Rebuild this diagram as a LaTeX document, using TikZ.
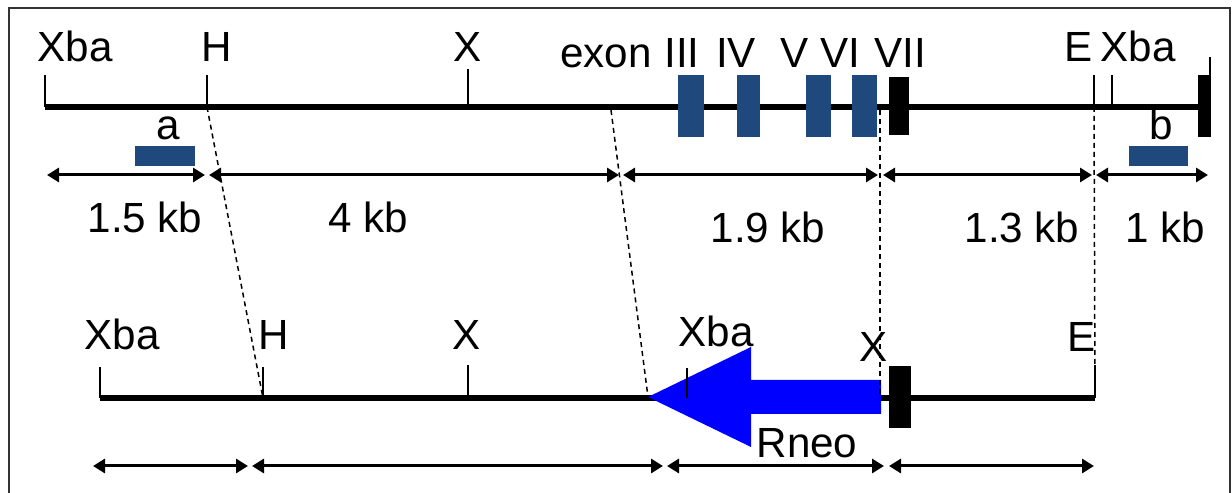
\documentclass[tikz,border=0pt]{standalone}
\usepackage{fontspec}
\setmainfont{Liberation Sans}
\usepackage{tikz}
\usepackage{xcolor}
\usetikzlibrary{positioning,arrows.meta}
\definecolor{exonblue}{RGB}{31,73,125}
\definecolor{neoblue}{RGB}{0,0,255}
\begin{document}
\begin{tikzpicture}
[
x=0.2mm, y=-0.2mm,
text-a/.style={font=\fontsize{24}{28}\selectfont, inner sep=0pt, anchor=base},
line-a/.style={line width=1.2mm},
tick-a/.style={line width=0.45mm},
tick-b/.style={line width=0.25mm},
span-a/.style={line width=0.6mm, {Triangle[length=2.4mm,width=2.8mm]}-{Triangle[length=2.4mm,width=2.8mm]}},
guide-a/.style={line width=0.3mm, dash pattern=on 1mm off 0.8mm},
exon-a/.style={fill=exonblue},
exon-b/.style={fill=black},
frame-a/.style={line width=0.4mm, draw=black!80}
]
\useasboundingbox (0,0) rectangle (1232,493);
\draw [frame-a] (9,493) -- (9,8) -- (1230,8) -- (1230,493);

\coordinate (wt-l)       at (45,107);
\coordinate (wt-r)       at (1205,107);
\coordinate (wt-xba-1)   at (45,75);
\coordinate (wt-h)       at (207,107);
\coordinate (wt-h-up)    at (207,75);
\coordinate (wt-x)       at (468,107);
\coordinate (wt-x-up)    at (468,69);
\coordinate (wt-e)       at (1094,107);
\coordinate (wt-e-up)    at (1094,75);
\coordinate (wt-xba-2)   at (1112,107);
\coordinate (wt-xba-2-up) at (1112,75);
\coordinate (wt-end)     at (1210,75);
\coordinate (wt-end-up)  at (1210,57);
\coordinate (wt-cut)     at (611,110);
\coordinate (wt-vi)      at (880,110);

\draw [line-a] (wt-l) -- (wt-r);
\draw [tick-a] (wt-l) -- (wt-xba-1);
\draw [tick-a] (wt-h) -- (wt-h-up);
\draw [tick-a] (wt-x) -- (wt-x-up);
\draw [tick-a] (wt-e) -- (wt-e-up);
\draw [tick-a] (wt-xba-2) -- (wt-xba-2-up);
\draw [tick-a] (wt-end) -- (wt-end-up);
\fill [exon-b] (1198,75) rectangle (1211,137);
\fill [exon-a] (678,75) rectangle (704,137);
\fill [exon-a] (737,75) rectangle (760,137);
\fill [exon-a] (806,75) rectangle (831,137);
\fill [exon-a] (852,75) rectangle (877,137);
\fill [exon-b] (889,77) rectangle (909,135);
\fill [exon-a] (135,146) rectangle (195,166);
\fill [exon-a] (1129,146) rectangle (1188,166);

\node (lb-xba-1)  [text-a] at (75,62)    {Xba};
\node (lb-h-1)    [text-a] at (217,62)   {H};
\node (lb-x-1)    [text-a] at (468,62)   {X};
\node (lb-exon)   [text-a] at (606,68)   {exon};
\node (lb-iii)    [text-a] at (682,68)   {III};
\node (lb-iv)     [text-a] at (736,68)   {IV};
\node (lb-v)      [text-a] at (795,68)   {V};
\node (lb-vi)     [text-a] at (840,68)   {VI};
\node (lb-vii)    [text-a] at (900,68)   {VII};
\node (lb-e-1)    [text-a] at (1079,62)  {E};
\node (lb-xba-2)  [text-a] at (1138,62)  {Xba};
\node (lb-a)      [text-a] at (168,140)  {a};
\node (lb-b)      [text-a] at (1161,140) {b};

\coordinate (sp-1-a) at (47,175);
\coordinate (sp-1-b) at (205,175);
\coordinate (sp-1-c) at (209,175);
\coordinate (sp-1-d) at (619,175);
\coordinate (sp-1-e) at (623,175);
\coordinate (sp-1-f) at (878,175);
\coordinate (sp-1-g) at (883,175);
\coordinate (sp-1-h) at (1092,175);
\coordinate (sp-1-i) at (1096,175);
\coordinate (sp-1-j) at (1208,175);
\draw [span-a] (sp-1-a) -- (sp-1-b);
\draw [span-a] (sp-1-c) -- (sp-1-d);
\draw [span-a] (sp-1-e) -- (sp-1-f);
\draw [span-a] (sp-1-g) -- (sp-1-h);
\draw [span-a] (sp-1-i) -- (sp-1-j);

\node (kb-1) [text-a] at (145,233)  {1.5 kb};
\node (kb-2) [text-a] at (368,233)  {4 kb};
\node (kb-3) [text-a] at (768,243)  {1.9 kb};
\node (kb-4) [text-a] at (1022,243) {1.3 kb};
\node (kb-5) [text-a] at (1165,243) {1 kb};

\coordinate (ko-l)       at (100,398);
\coordinate (ko-r)       at (1095,398);
\coordinate (ko-xba-1)   at (100,367);
\coordinate (ko-h)       at (263,398);
\coordinate (ko-h-up)    at (263,367);
\coordinate (ko-x)       at (468,398);
\coordinate (ko-x-up)    at (468,365);
\coordinate (ko-xba-2)   at (687,398);
\coordinate (ko-xba-2-up) at (687,368);
\coordinate (ko-tip)     at (648,397);
\coordinate (ko-vi)      at (880,395);
\coordinate (ko-e-up)    at (1095,365);

\draw [line-a] (ko-l) -- (ko-r);
\draw [tick-a] (ko-l) -- (ko-xba-1);
\draw [tick-a] (ko-h) -- (ko-h-up);
\draw [tick-a] (ko-x) -- (ko-x-up);
\draw [tick-a] (ko-r) -- (ko-e-up);
\fill [neoblue] (ko-tip) -- (751,347) -- (751,380) -- (881,380)
  -- (881,414) -- (751,414) -- (751,447) -- cycle;
\draw [tick-b] (ko-xba-2) -- (ko-xba-2-up);
\fill [exon-b] (889,366) rectangle (911,428);

\draw [guide-a] (wt-h) -- (ko-h);
\draw [guide-a] (wt-cut) -- (ko-tip);
\draw [guide-a] (wt-vi) -- (ko-vi);
\draw [guide-a] (wt-e) -- (ko-r);

\node (lb-xba-3) [text-a] at (122,350) {Xba};
\node (lb-h-2)   [text-a] at (274,350) {H};
\node (lb-x-2)   [text-a] at (467,350) {X};
\node (lb-xba-4) [text-a] at (716,347) {Xba};
\node (lb-x-3)   [text-a] at (874,362) {X};
\node (lb-e-2)   [text-a] at (1082,352) {E};
\node (lb-rneo)  [text-a] at (807,458) {Rneo};

\coordinate (sp-2-a) at (93,466);
\coordinate (sp-2-b) at (248,466);
\coordinate (sp-2-c) at (252,466);
\coordinate (sp-2-d) at (663,466);
\coordinate (sp-2-e) at (667,466);
\coordinate (sp-2-f) at (884,466);
\coordinate (sp-2-g) at (889,466);
\coordinate (sp-2-h) at (1094,466);
\draw [span-a] (sp-2-a) -- (sp-2-b);
\draw [span-a] (sp-2-c) -- (sp-2-d);
\draw [span-a] (sp-2-e) -- (sp-2-f);
\draw [span-a] (sp-2-g) -- (sp-2-h);
\end{tikzpicture}
\end{document}
